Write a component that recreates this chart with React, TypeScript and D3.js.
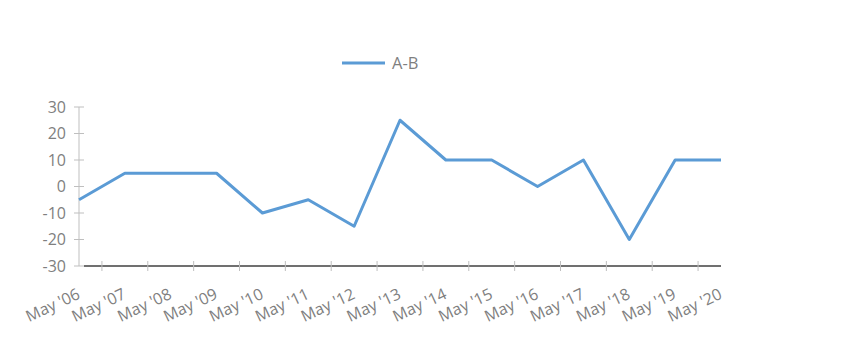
import React from "react";
import * as d3 from "d3";

const categories = ["May '06","May '07","May '08","May '09","May '10","May '11","May '12","May '13","May '14","May '15","May '16","May '17","May '18","May '19","May '20"];
const seriesName = "A-B";
const values = [-5, 5, 5, 5, -10, -5, -15, 25, 10, 10, 0, 10, -20, 10, 10];
const yTicks = [-30, -20, -10, 0, 10, 20, 30];

const W = 844, H = 364;
const left = 79, right = 721, top = 107, bottom = 266;
const font = "'Open Sans', 'Liberation Sans', sans-serif";
const textColor = "#7f7f7f";
const lineColor = "#5b9bd5";

export default function App() {
  const x = d3.scalePoint<string>().domain(categories).range([left, right]);
  const y = d3.scaleLinear().domain([-30, 30]).range([bottom, top]);
  const step = x.step();
  const line = d3.line<number>().x((_, i) => x(categories[i])!).y(d => y(d));
  const tickXs = categories.slice(0, -1).map(c => x(c)! + step / 2);
  return (
    <svg width={W} height={H} style={{ position: "absolute", left: 0, top: 0 }}>
      <rect width={W} height={H} fill="#fff" />
      {/* legend */}
      <line x1={342} x2={385} y1={63} y2={63} stroke={lineColor} strokeWidth={3} />
      <text x={392} y={69} fontFamily={font} fontSize={16.5} fill={textColor}>{seriesName}</text>
      {/* y axis */}
      <line x1={left} x2={left} y1={top} y2={bottom} stroke="#bfbfbf" strokeWidth={1} />
      {yTicks.map(t => (
        <g key={t}>
          <line x1={left - 5} x2={left + 5} y1={y(t)} y2={y(t)} stroke="#bfbfbf" />
          <text x={left - 13} y={y(t)} dy="0.36em" textAnchor="end" fontFamily={font} fontSize={16} fill={textColor}>{t}</text>
        </g>
      ))}
      {/* x axis */}
      <line x1={left + 5} x2={right} y1={bottom} y2={bottom} stroke="#404040" strokeWidth={1.5} />
      {tickXs.map((tx, i) => (
        <line key={i} x1={tx} x2={tx} y1={bottom - 5} y2={bottom + 5} stroke="#bfbfbf" />
      ))}
      {categories.map(c => (
        <text key={c} transform={`translate(${x(c)! + 2},${bottom + 32}) rotate(-25)`} textAnchor="end" fontFamily={font} fontSize={16} fill={textColor}>{c}</text>
      ))}
      <path d={line(values)!} fill="none" stroke={lineColor} strokeWidth={3} strokeLinejoin="round" />
    </svg>
  );
}
